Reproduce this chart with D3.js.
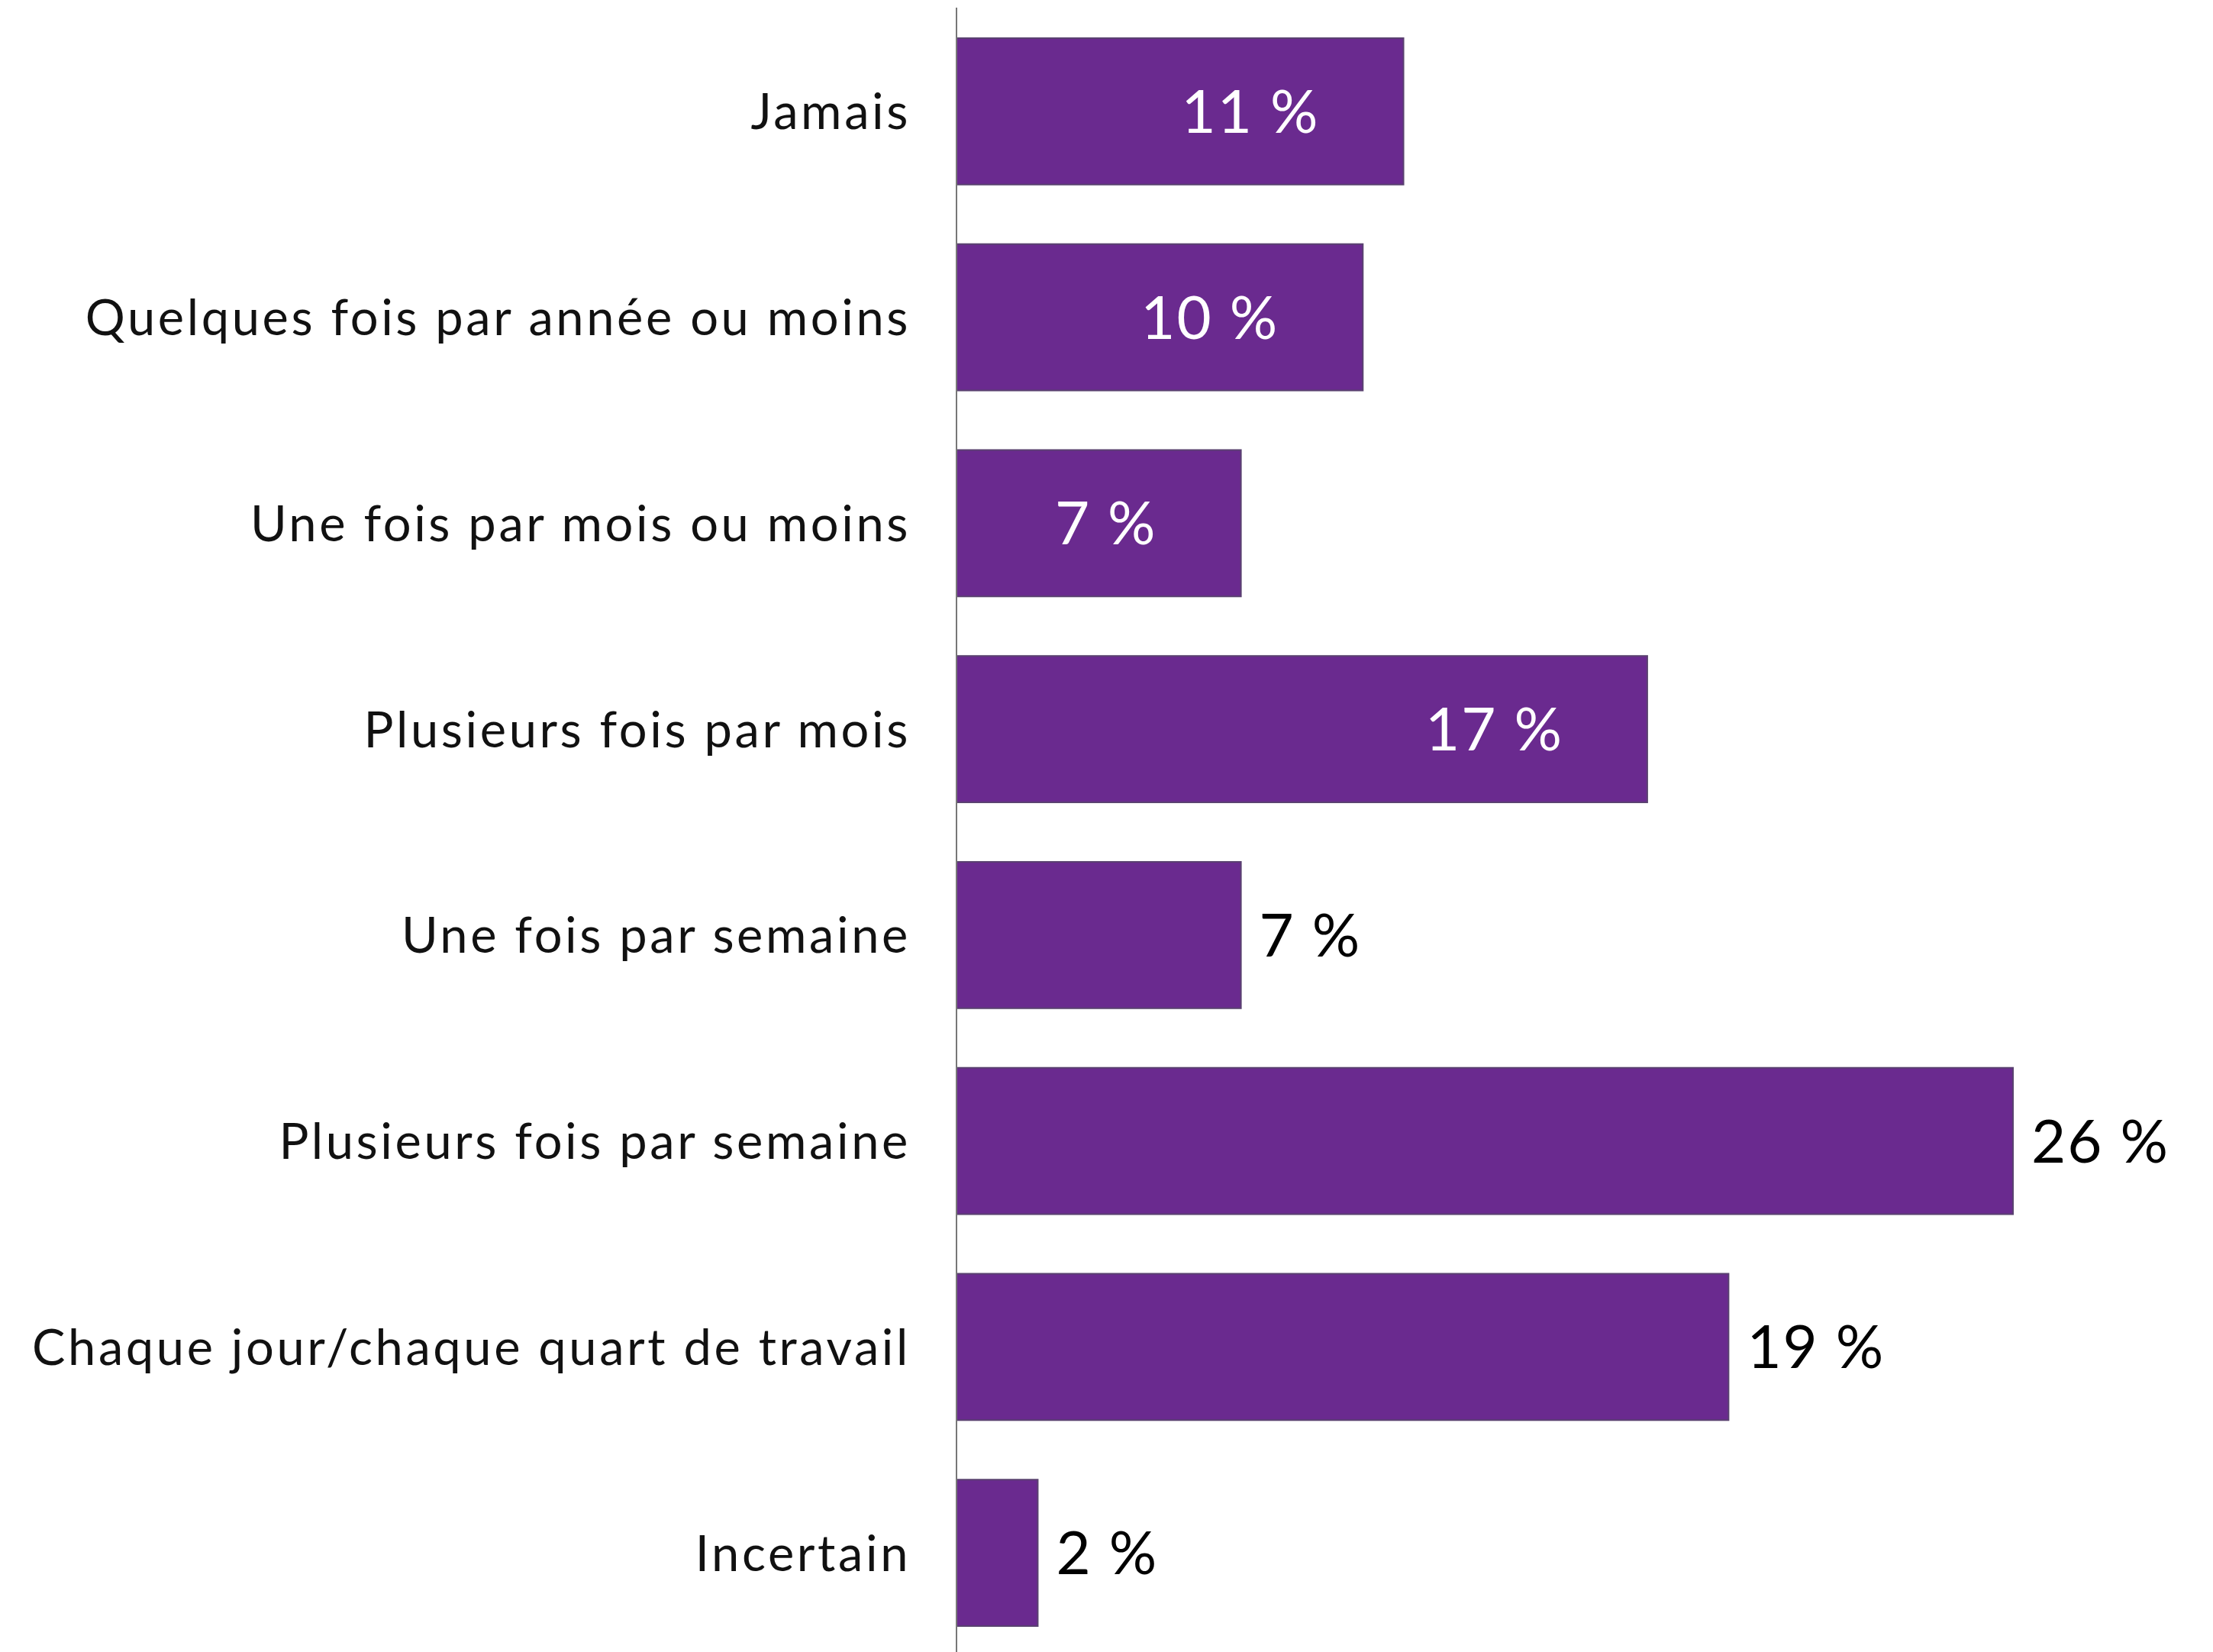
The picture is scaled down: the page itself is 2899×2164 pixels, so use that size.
<!DOCTYPE html>
<html>
<head>
<meta charset="utf-8">
<script src="https://cdn.jsdelivr.net/npm/d3@7"></script>
<style>
  html, body { margin: 0; padding: 0; background: #fff; }
  svg { display: block; }
</style>
</head>
<body>
<svg id="chart" width="2899" height="2164"></svg>
<script>
const categories = [
  "Jamais",
  "Quelques fois par année ou moins",
  "Une fois par mois ou moins",
  "Plusieurs fois par mois",
  "Une fois par semaine",
  "Plusieurs fois par semaine",
  "Chaque jour/chaque quart de travail",
  "Incertain"
];
const values = [11, 10, 7, 17, 7, 26, 19, 2];
const labelInside = [true, true, true, true, false, false, false, false];

const W = 2899, H = 2164;
const svg = d3.select("#chart");
const FONT = "Lato, 'Open Sans', sans-serif";
const BAR = "#6a2a8f";

const x = d3.scaleLinear().domain([0, 26]).range([1253, 2637]);
const y = d3.scaleBand().domain(categories).range([11, 2169])
  .paddingInner(0.2889).paddingOuter(0.1444);

const data = categories.map((c, i) => ({ c, v: values[i], inside: labelInside[i] }));

// bars
svg.append("g").selectAll("rect").data(data).join("rect")
  .attr("x", x(0))
  .attr("y", d => y(d.c))
  .attr("width", d => x(d.v) - x(0))
  .attr("height", y.bandwidth())
  .attr("fill", BAR)
  .attr("stroke", "#5a4270")
  .attr("stroke-width", 2);

// category axis
const yAxis = d3.axisLeft(y).tickSize(0).tickPadding(60);
const ga = svg.append("g").attr("transform", `translate(${x(0)},0)`).call(yAxis);
ga.select(".domain").remove();
ga.append("line").attr("x1", 0).attr("x2", 0).attr("y1", 10).attr("y2", H)
  .attr("stroke", "#777").attr("stroke-width", 2);
ga.selectAll(".tick text")
  .attr("font-family", FONT)
  .attr("font-size", 65)
  .attr("fill", "#111")
  .attr("letter-spacing", 3.6)
  .attr("dy", "0.36em");

// value labels
svg.append("g").selectAll("text").data(data).join("text")
  .attr("x", d => d.inside ? x(d.v) - 110 : x(d.v) + 24)
  .attr("y", d => y(d.c) + y.bandwidth() / 2)
  .attr("dy", "0.36em")
  .attr("text-anchor", d => d.inside ? "end" : "start")
  .attr("font-family", FONT)
  .attr("font-size", 78)
  .attr("letter-spacing", 2)
  .attr("fill", d => d.inside ? "#fff" : "#000")
  .text(d => d.v + " %");
</script>
</body>
</html>
